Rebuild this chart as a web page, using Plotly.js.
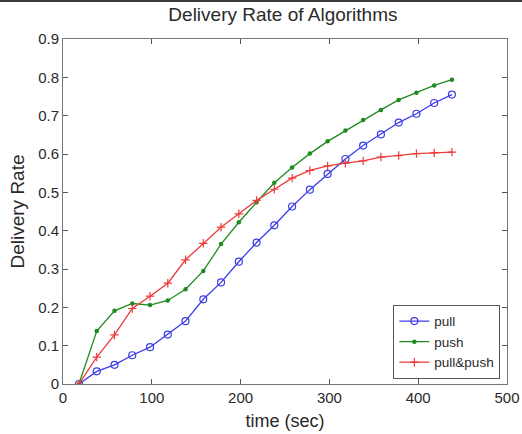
<!DOCTYPE html>
<html>
<head>
<meta charset="utf-8">
<script src="https://cdn.plot.ly/plotly-3.0.1.min.js"></script>
<style>
html,body{margin:0;padding:0;background:#fff;}
#wrap{position:relative;width:522px;height:434px;}
#chart{width:522px;height:434px;}
#topbar{position:absolute;left:0;top:0;width:522px;height:2px;background:#3a3a3a;}
</style>
</head>
<body>
<div id="wrap"><div id="chart"></div><div id="topbar"></div></div>
<script>
const timeSec = [18, 38, 58, 78, 98, 118, 138, 158, 178, 198, 218, 238, 258, 278, 298, 318, 338, 358, 378, 398, 418, 438];
const pullRate = [0, 0.033, 0.050, 0.075, 0.096, 0.129, 0.164, 0.221, 0.265, 0.319, 0.369, 0.414, 0.463, 0.507, 0.548, 0.587, 0.622, 0.651, 0.682, 0.705, 0.733, 0.755];
const pushRate = [0, 0.138, 0.191, 0.210, 0.206, 0.218, 0.247, 0.295, 0.365, 0.422, 0.474, 0.525, 0.565, 0.601, 0.633, 0.661, 0.689, 0.715, 0.741, 0.760, 0.779, 0.794];
const pullPushRate = [0, 0.070, 0.128, 0.197, 0.229, 0.263, 0.324, 0.367, 0.409, 0.444, 0.479, 0.508, 0.537, 0.557, 0.569, 0.576, 0.582, 0.592, 0.596, 0.601, 0.603, 0.605];
const seriesNames = ["pull", "push", "pull&push"];
const xTicks = [0, 100, 200, 300, 400, 500];
const yTicks = [0, 0.1, 0.2, 0.3, 0.4, 0.5, 0.6, 0.7, 0.8, 0.9];
const yTickText = ["0", "0.1", "0.2", "0.3", "0.4", "0.5", "0.6", "0.7", "0.8", "0.9"];

const font = "Liberation Sans, Arial, Helvetica, sans-serif";
const txt = "#2a2a2a";

const traces = [
  {x: timeSec, y: pullRate, name: seriesNames[0], mode: "lines+markers",
   line: {color: "#3c3ce8", width: 1.3},
   marker: {symbol: "circle-open", size: 7, color: "#3c3ce8", line: {width: 1.2}}},
  {x: timeSec, y: pushRate, name: seriesNames[1], mode: "lines+markers",
   line: {color: "#1f8a1f", width: 1.3},
   marker: {symbol: "circle", size: 4.5, color: "#1f8a1f"}},
  {x: timeSec, y: pullPushRate, name: seriesNames[2], mode: "lines+markers",
   line: {color: "#ee3a3a", width: 1.3},
   marker: {symbol: "cross-thin-open", size: 6, color: "#ee3a3a", line: {width: 1.2, color: "#ee3a3a"}}}
];

const layout = {
  width: 522, height: 434,
  margin: {l: 63, r: 15, t: 39, b: 50},
  paper_bgcolor: "#fff", plot_bgcolor: "#fff",
  font: {family: font, color: txt, size: 15},
  title: {text: "Delivery Rate of Algorithms", font: {size: 19, family: font, color: txt},
          x: 0.542, xanchor: "center", y: 0.968, yanchor: "middle"},
  showlegend: true,
  legend: {x: 0.985, xanchor: "right", y: 0.015, yanchor: "bottom",
           bordercolor: "#555", borderwidth: 1, bgcolor: "#fff",
           font: {size: 13.5, family: font, color: txt},
           tracegroupgap: 0},
  xaxis: {range: [0, 500], tickvals: xTicks,
          ticks: "inside", ticklen: 5, tickcolor: "#555", mirror: "ticks",
          showline: true, linecolor: "#777", linewidth: 1, showgrid: false, zeroline: false,
          tickfont: {size: 15, family: font, color: txt},
          title: {text: "time (sec)", font: {size: 18, family: font, color: txt}, standoff: 9}},
  yaxis: {range: [0, 0.9], tickvals: yTicks, ticktext: yTickText,
          ticks: "inside", ticklen: 5, tickcolor: "#555", mirror: "ticks",
          showline: true, linecolor: "#777", linewidth: 1, showgrid: false, zeroline: false,
          tickfont: {size: 15, family: font, color: txt},
          title: {text: "Delivery Rate", font: {size: 19, family: font, color: txt}, standoff: 8}}
};

Plotly.newPlot("chart", traces, layout, {displayModeBar: false, staticPlot: true});
</script>
</body>
</html>
